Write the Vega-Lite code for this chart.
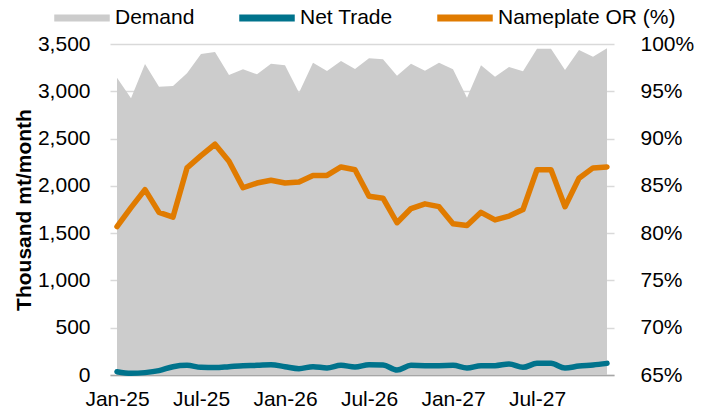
{
  "$schema": "https://vega.github.io/schema/vega-lite/v6.json",
  "autosize": "none",
  "width": 512,
  "height": 331,
  "padding": {"left": 110, "top": 44, "right": 89, "bottom": 39},
  "background": "white",
  "config": {
    "font": "Liberation Sans",
    "view": {"stroke": null},
    "axis": {"labelFontSize": 21, "labelColor": "#000000", "titleFontSize": 21, "titleColor": "#000000", "labelFont": "Liberation Sans", "titleFont": "Liberation Sans"},
    "legend": {"labelFont": "Liberation Sans"}
  },
  "data": {
    "values": [
      {"month": "Jan-25", "demand": 3144, "net_trade": 35, "nameplate_or": 80.7},
      {"month": "Feb-25", "demand": 2926, "net_trade": 18, "nameplate_or": 82.7},
      {"month": "Mar-25", "demand": 3289, "net_trade": 25, "nameplate_or": 84.6},
      {"month": "Apr-25", "demand": 3049, "net_trade": 46, "nameplate_or": 82.2},
      {"month": "May-25", "demand": 3056, "net_trade": 88, "nameplate_or": 81.7},
      {"month": "Jun-25", "demand": 3190, "net_trade": 102, "nameplate_or": 86.9},
      {"month": "Jul-25", "demand": 3394, "net_trade": 81, "nameplate_or": 88.2},
      {"month": "Aug-25", "demand": 3415, "net_trade": 78, "nameplate_or": 89.4},
      {"month": "Sep-25", "demand": 3172, "net_trade": 88, "nameplate_or": 87.6},
      {"month": "Oct-25", "demand": 3232, "net_trade": 99, "nameplate_or": 84.8},
      {"month": "Nov-25", "demand": 3179, "net_trade": 102, "nameplate_or": 85.3},
      {"month": "Dec-25", "demand": 3292, "net_trade": 109, "nameplate_or": 85.6},
      {"month": "Jan-26", "demand": 3274, "net_trade": 88, "nameplate_or": 85.3},
      {"month": "Feb-26", "demand": 2985, "net_trade": 67, "nameplate_or": 85.4},
      {"month": "Mar-26", "demand": 3303, "net_trade": 88, "nameplate_or": 86.1},
      {"month": "Apr-26", "demand": 3215, "net_trade": 74, "nameplate_or": 86.1},
      {"month": "May-26", "demand": 3320, "net_trade": 102, "nameplate_or": 87.0},
      {"month": "Jun-26", "demand": 3236, "net_trade": 85, "nameplate_or": 86.7},
      {"month": "Jul-26", "demand": 3349, "net_trade": 109, "nameplate_or": 83.9},
      {"month": "Aug-26", "demand": 3338, "net_trade": 106, "nameplate_or": 83.7},
      {"month": "Sep-26", "demand": 3165, "net_trade": 53, "nameplate_or": 81.1},
      {"month": "Oct-26", "demand": 3292, "net_trade": 102, "nameplate_or": 82.6},
      {"month": "Nov-26", "demand": 3218, "net_trade": 99, "nameplate_or": 83.1},
      {"month": "Dec-26", "demand": 3303, "net_trade": 99, "nameplate_or": 82.8},
      {"month": "Jan-27", "demand": 3232, "net_trade": 102, "nameplate_or": 81.0},
      {"month": "Feb-27", "demand": 2932, "net_trade": 74, "nameplate_or": 80.8},
      {"month": "Mar-27", "demand": 3274, "net_trade": 99, "nameplate_or": 82.2},
      {"month": "Apr-27", "demand": 3155, "net_trade": 99, "nameplate_or": 81.4},
      {"month": "May-27", "demand": 3257, "net_trade": 116, "nameplate_or": 81.8},
      {"month": "Jun-27", "demand": 3211, "net_trade": 81, "nameplate_or": 82.5},
      {"month": "Jul-27", "demand": 3451, "net_trade": 123, "nameplate_or": 86.7},
      {"month": "Aug-27", "demand": 3451, "net_trade": 123, "nameplate_or": 86.7},
      {"month": "Sep-27", "demand": 3225, "net_trade": 74, "nameplate_or": 82.8},
      {"month": "Oct-27", "demand": 3437, "net_trade": 95, "nameplate_or": 85.8},
      {"month": "Nov-27", "demand": 3366, "net_trade": 106, "nameplate_or": 86.9},
      {"month": "Dec-27", "demand": 3454, "net_trade": 123, "nameplate_or": 87.0}
    ]
  },
  "encoding": {
    "x": {
      "field": "month",
      "type": "ordinal",
      "sort": null,
      "scale": {"type": "point", "range": [0, 504]},
      "axis": {
        "values": ["Jan-25", "Jul-25", "Jan-26", "Jul-26", "Jan-27", "Jul-27"],
        "labelAngle": 0,
        "ticks": false,
        "grid": false,
        "domain": true,
        "domainColor": "#a6a6a6",
        "domainWidth": 1.5,
        "labelPadding": 13,
        "title": null
      }
    }
  },
  "layer": [
    {
      "layer": [
        {
          "mark": {"type": "area", "opacity": 1},
          "encoding": {
            "y": {
              "field": "demand",
              "type": "quantitative",
              "scale": {"domain": [0, 3500], "nice": false},
              "axis": {
                "values": [0, 500, 1000, 1500, 2000, 2500, 3000, 3500],
                "format": ",.0f",
                "grid": true,
                "gridColor": "#d9d9d9",
                "gridWidth": 1.3,
                "domain": false,
                "ticks": false,
                "labelPadding": 20,
                "title": "Thousand mt/month",
                "titleFontWeight": "bold",
                "titlePadding": 3
              }
            },
            "color": {
              "datum": "Demand",
              "type": "nominal",
              "scale": {
                "domain": ["Demand", "Net Trade", "Nameplate OR (%)"],
                "range": ["#cccccc", "#00738c", "#e07b00"]
              },
              "legend": {
                "orient": "none",
                "legendX": -56,
                "legendY": -54,
                "direction": "horizontal",
                "title": null,
                "labelFontSize": 21,
                "labelColor": "#000000",
                "labelLimit": 400,
                "symbolSize": 2916,
                "columnPadding": 42,
                "labelOffset": 5,
                "padding": 0,
                "symbolType": "M-1,-0.1H1V0.1H-1Z",
                "encode": {
                  "symbols": {
                    "update": {
                      "shape": {"signal": "datum.value === 'Demand' ? 'M-1,-0.185H1V0.185H-1Z' : 'M-1,-0.1H1V0.1H-1Z'"},
                      "fill": {"signal": "scale('color', datum.value)"},
                      "strokeWidth": {"value": 0},
                      "opacity": {"value": 1}
                    }
                  }
                }
              }
            }
          }
        },
        {
          "mark": {"type": "line", "interpolate": "monotone", "strokeWidth": 5.5, "strokeCap": "round", "strokeJoin": "round"},
          "encoding": {
            "y": {"field": "net_trade", "type": "quantitative"},
            "color": {"datum": "Net Trade", "type": "nominal"}
          }
        }
      ]
    },
    {
      "mark": {"type": "line", "strokeWidth": 5.5, "strokeCap": "round", "strokeJoin": "round"},
      "encoding": {
        "y": {
          "field": "nameplate_or",
          "type": "quantitative",
          "scale": {"domain": [65, 100], "nice": false},
          "axis": {
            "orient": "right",
            "values": [65, 70, 75, 80, 85, 90, 95, 100],
            "labelExpr": "datum.value + '%'",
            "grid": false,
            "domain": false,
            "ticks": false,
            "labelPadding": 18,
            "title": null
          }
        },
        "color": {"datum": "Nameplate OR (%)", "type": "nominal"}
      }
    }
  ],
  "resolve": {"scale": {"y": "independent"}}
}
